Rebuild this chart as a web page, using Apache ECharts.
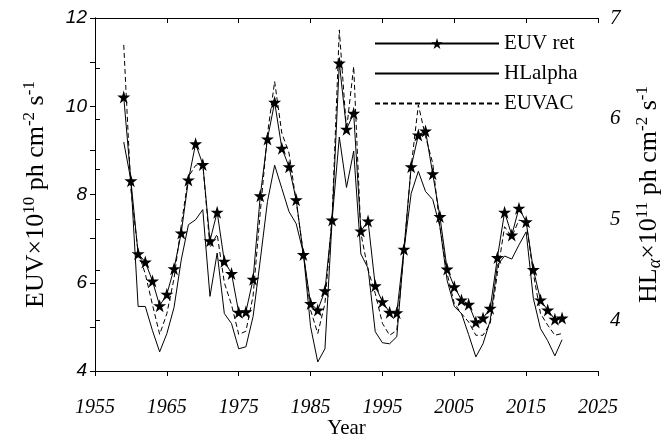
<!DOCTYPE html>
<html>
<head>
<meta charset="utf-8">
<script src="https://cdn.jsdelivr.net/npm/echarts@6/dist/echarts.min.js"></script>
<style>
html,body{margin:0;padding:0;background:#fff;}
#main{width:666px;height:441px;}
</style>
</head>
<body>
<div id="main"></div>
<script>
// data
var years = [1959,1960,1961,1962,1963,1964,1965,1966,1967,1968,1969,1970,1971,1972,1973,1974,1975,1976,1977,1978,
	1979,1980,1981,1982,1983,1984,1985,1986,1987,1988,1989,1990,1991,1992,1993,1994,1995,1996,1997,1998,
	1999,2000,2001,2002,2003,2004,2005,2006,2007,2008,2009,2010,2011,2012,2013,2014,2015,2016,2017,2018,
	2019,2020];
// EUV ret (left axis, x10^10)
var euvRet = [10.21,8.31,6.66,6.47,6.04,5.48,5.74,6.32,7.13,8.33,9.15,8.68,6.95,7.60,6.49,6.21,5.33,5.34,6.08,7.97,
	9.26,10.09,9.05,8.63,7.88,6.64,5.53,5.38,5.82,7.42,10.98,9.48,9.84,7.17,7.40,5.93,5.57,5.33,5.32,6.76,
	8.63,9.35,9.44,8.47,7.50,6.31,5.91,5.61,5.51,5.11,5.20,5.42,6.57,7.60,7.08,7.69,7.38,6.30,5.61,5.38,
	5.17,5.20];
// HLalpha (right axis, x10^11)
var hlAlpha = [5.77,5.39,4.14,4.14,3.90,3.69,3.87,4.13,4.60,4.95,5.00,5.10,4.24,4.67,4.07,3.97,3.72,3.74,4.04,4.60,
	5.18,5.54,5.31,5.08,4.96,4.67,3.94,3.59,3.72,5.00,5.82,5.32,5.68,4.66,4.52,3.89,3.78,3.77,3.84,4.70,
	5.26,5.48,5.28,5.20,4.93,4.40,4.14,4.07,3.86,3.64,3.77,4.00,4.55,4.64,4.61,4.75,4.88,4.22,3.92,3.80,
	3.65,3.81];
// EUVAC (left axis)
var euvac = [11.39,8.10,6.70,6.20,5.50,4.83,5.30,6.10,7.30,8.40,8.66,8.71,6.80,7.10,6.00,5.50,4.83,4.90,5.70,7.60,
	9.37,10.56,9.39,8.94,7.84,6.67,5.38,4.85,5.53,7.50,11.73,9.46,10.90,7.12,6.29,5.76,5.08,4.81,4.92,6.74,
	8.63,10.03,9.31,8.71,7.27,6.21,5.53,5.30,5.11,4.81,4.81,5.08,6.21,7.27,7.04,7.42,7.38,6.21,5.30,5.04,
	4.81,4.85];
var seriesNames = ['EUV ret', 'HLalpha', 'EUVAC'];
var xStart = 1955; // first tick year

var serif = 'Liberation Serif';
var star = 'path://M50,0 L61,35 L98,35 L68,57 L79,91 L50,70 L21,91 L32,57 L2,35 L39,35 Z';

// x is counted from 1955 so ticks fall on 1955, 1965, ...
function pairs(vals) {
	var out = [];
	for (var i = 0; i < years.length; i++) {
		out.push([years[i] - xStart, vals[i]]);
	}
	return out;
}

var nameRich = {
	n: {fontFamily: serif, fontSize: 26, color: '#000', lineHeight: 30},
	sup: {fontFamily: serif, fontSize: 17, color: '#000', lineHeight: 16, verticalAlign: 'top'},
	sub: {fontFamily: serif, fontSize: 18, fontStyle: 'italic', color: '#000', lineHeight: 16, verticalAlign: 'bottom'}
};

var myChart = echarts.init(document.getElementById('main'));
var option = {
	animation: false,
	backgroundColor: '#fff',
	grid: {left: 95, right: 68, top: 18, bottom: 70, outerBoundsMode: 'none', containLabel: false},
	legend: {
		orient: 'vertical',
		left: 369,
		top: 28,
		itemWidth: 124,
		itemHeight: 14,
		itemGap: 9,
		data: [
			{name: seriesNames[0]},
			{name: seriesNames[1], itemStyle: {opacity: 0}},
			{name: seriesNames[2], itemStyle: {opacity: 0}}
		],
		textStyle: {fontFamily: serif, fontSize: 21, color: '#000', lineHeight: 21}
	},
	xAxis: [{
		type: 'value',
		position: 'bottom',
		min: 0,
		max: 70,
		interval: 10,
		name: 'Year',
		nameLocation: 'middle',
		nameGap: 47,
		nameMoveOverlap: false,
		nameTextStyle: {fontFamily: serif, fontSize: 21, color: '#000'},
		axisLine: {lineStyle: {color: '#000', width: 1}},
		axisTick: {length: 5, lineStyle: {color: '#000'}},
		axisLabel: {
			margin: 27,
			fontFamily: serif, fontStyle: 'italic', fontSize: 20, color: '#000',
			formatter: function(v) { return String(v + xStart); }
		},
		splitLine: {show: false}
	}, {
		type: 'value',
		position: 'top',
		min: 0,
		max: 70,
		interval: 10,
		axisLine: {lineStyle: {color: '#000', width: 1}},
		axisTick: {inside: true, length: 5, lineStyle: {color: '#000'}},
		axisLabel: {show: false},
		splitLine: {show: false}
	}],
	yAxis: [{
		type: 'value',
		position: 'left',
		min: 4,
		max: 12,
		interval: 1,
		name: '{n|EUV×10}{sup|10}{n| ph cm}{sup|-2}{n| s}{sup|-1}',
		nameLocation: 'middle',
		nameRotate: 90,
		nameGap: 44,
		nameMoveOverlap: false,
		nameTextStyle: {rich: nameRich},
		axisLine: {show: true, lineStyle: {color: '#000', width: 1}},
		axisTick: {length: 5, lineStyle: {color: '#000'}},
		axisLabel: {
			margin: 8,
			fontFamily: 'Liberation Sans', fontStyle: 'italic', fontSize: 19, color: '#000',
			formatter: function(v) { return v % 2 === 0 ? String(v) : ''; }
		},
		splitLine: {show: false}
	}, {
		type: 'value',
		position: 'right',
		min: 3.5,
		max: 7,
		interval: 0.5,
		name: '{n|HL}{sub|α}{n|×10}{sup|11}{n| ph cm}{sup|-2}{n| s}{sup|-1}',
		nameLocation: 'middle',
		nameRotate: 90,
		nameGap: 36,
		nameMoveOverlap: false,
		nameTextStyle: {rich: nameRich},
		axisLine: {show: true, lineStyle: {color: '#000', width: 1}},
		axisTick: {length: 5, lineStyle: {color: '#000'}},
		axisLabel: {
			margin: 12,
			fontFamily: serif, fontStyle: 'italic', fontSize: 21, color: '#000',
			formatter: function(v) { return v % 1 === 0 ? String(v) : ''; }
		},
		splitLine: {show: false}
	}],
	series: [{
		name: seriesNames[0],
		type: 'line',
		yAxisIndex: 0,
		data: pairs(euvRet),
		symbol: star,
		symbolSize: 13,
		showAllSymbol: true,
		z: 5,
		itemStyle: {color: '#000'},
		lineStyle: {color: '#000', width: 1}
	}, {
		name: seriesNames[1],
		type: 'line',
		yAxisIndex: 1,
		data: pairs(hlAlpha),
		symbol: 'none',
		z: 3,
		itemStyle: {color: '#000'},
		lineStyle: {color: '#000', width: 1}
	}, {
		name: seriesNames[2],
		type: 'line',
		yAxisIndex: 0,
		data: pairs(euvac),
		symbol: 'none',
		z: 4,
		itemStyle: {color: '#000'},
		lineStyle: {color: '#000', width: 1, type: [5, 3]}
	}]
};
myChart.setOption(option);
</script>
</body>
</html>
